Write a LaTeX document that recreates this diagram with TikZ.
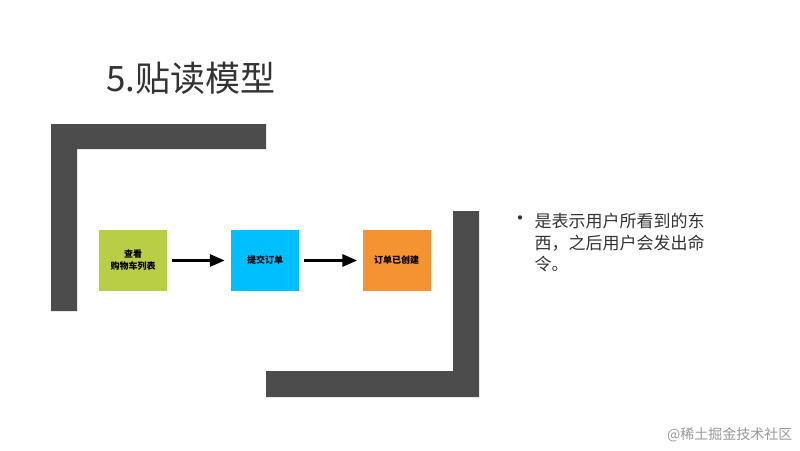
\documentclass[tikz,border=0pt]{standalone}
\usepackage{fontspec}
\newfontfamily\cjk{Noto Sans CJK SC}
\usetikzlibrary{arrows.meta}
\tikzset{bar/.style={fill=black!70,draw=none},
 box/.style={minimum width=68pt,minimum height=61pt,inner sep=0pt,font=\cjk\bfseries\fontsize{9}{12}\selectfont,align=center},
 arr/.style={-{Triangle[length=15pt,width=12pt]},line width=3pt}}
\begin{document}
\begin{tikzpicture}[x=1pt,y=-1pt]
\useasboundingbox[fill=white] (0,0) rectangle (800,450);
\fill[bar] (51,124) -- (266,124) -- (266,149) -- (77,149) -- (77,311) -- (51,311) -- cycle;
\fill[bar] (453,211) -- (479,211) -- (479,397) -- (266,397) -- (266,371) -- (453,371) -- cycle;
\node[box,fill={rgb,255:red,185;green,206;blue,69}] (a) at (133,260.5) {查看\\购物车列表};
\node[box,fill={rgb,255:red,0;green,191;blue,255}] (b) at (265,260.5) {提交订单};
\node[box,fill={rgb,255:red,245;green,146;blue,50}] (c) at (396.5,260.5) {订单已创建};
\draw[arr] ([xshift=5pt]a.east) -- ([xshift=-6pt]b.west);
\draw[arr] ([xshift=5pt]b.east) -- ([xshift=-5pt]c.west);
\node[anchor=west,font=\cjk\fontsize{35}{38}\selectfont,text=black!80] (t) at (103,78) {5.贴读模型};
\node[anchor=north west,font=\cjk\fontsize{17}{21.5}\selectfont,text=black!80,align=left] (p) at (531,210) {是表示用户所看到的东\\西，之后用户会发出命\\令。};
\node[font=\cjk\fontsize{20}{20}\selectfont,text=black!80] (bul) at (520,221) {•};
\node[anchor=east,font=\cjk\fontsize{14}{16}\selectfont,text=black!40] (w) at (796,435) {@稀土掘金技术社区};
\end{tikzpicture}
\end{document}
